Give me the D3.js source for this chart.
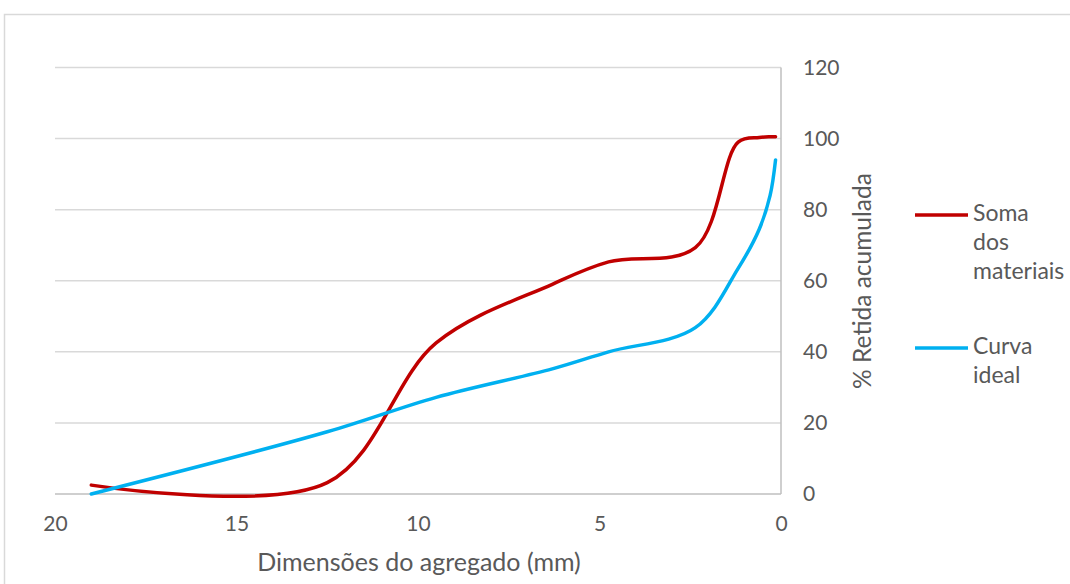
<!DOCTYPE html>
<html><head><meta charset="utf-8">
<script src="https://cdn.jsdelivr.net/npm/d3@7"></script>
<style>body{margin:0;background:#fff}svg{display:block}text{font-family:Lato,"Open Sans",sans-serif;fill:#595959}</style>
</head><body>
<svg id="chart" width="1070" height="584"></svg>
<script>
// Data
const sieves = [19, 12.5, 9.5, 6.3, 4.75, 2.36, 1.18, 0.6, 0.3, 0.15];
const somaMateriais = [2.5, 3.2, 42.5, 59, 65.3, 69.3, 99, 100.3, 100.5, 100.5];
const curvaIdeal = [0, 17.5, 27.2, 35.2, 40, 46.8, 63.5, 74.5, 84, 94];
const xTicks = [20, 15, 10, 5, 0];
const yTicks = [0, 20, 40, 60, 80, 100, 120];
const seriesNames = ["Soma dos materiais", "Curva ideal"];
const seriesColors = ["#c00000", "#00b0f0"];

const svg = d3.select("#chart");
svg.append("rect").attr("x", 4.5).attr("y", 14.5).attr("width", 1100).attr("height", 600)
  .attr("fill", "#fff").attr("stroke", "#d9d9d9").attr("stroke-width", 1.5);

const x = d3.scaleLinear().domain([20, 0]).range([55, 781]);
const y = d3.scaleLinear().domain([0, 120]).range([494, 67.5]);

// gridlines
svg.append("g").selectAll("line").data(yTicks.filter(d => d > 0)).join("line")
  .attr("x1", x(20)).attr("x2", x(0)).attr("y1", d => y(d)).attr("y2", d => y(d))
  .attr("stroke", "#d9d9d9").attr("stroke-width", 1.5);
// axis lines
svg.append("line").attr("x1", x(20)).attr("x2", x(0)).attr("y1", y(0)).attr("y2", y(0))
  .attr("stroke", "#bfbfbf").attr("stroke-width", 1.5);
svg.append("line").attr("x1", x(0)).attr("x2", x(0)).attr("y1", y(0)).attr("y2", y(120))
  .attr("stroke", "#bfbfbf").attr("stroke-width", 1.5);

// x tick labels
const xAxis = d3.axisBottom(x).tickValues(xTicks).tickSize(0).tickPadding(22);
const gx = svg.append("g").attr("transform", `translate(0,${y(0)})`).call(xAxis);
gx.select(".domain").remove();
gx.selectAll("text").style("font-size", "21px").attr("fill", "#595959").attr("font-family", "Lato");

// y tick labels (right)
const yAxis = d3.axisRight(y).tickValues(yTicks).tickSize(0).tickPadding(22);
const gy = svg.append("g").attr("transform", `translate(${x(0)},0)`).call(yAxis);
gy.select(".domain").remove();
gy.selectAll("text").style("font-size", "21px").attr("fill", "#595959").attr("font-family", "Lato");

// axis titles
svg.append("text").attr("x", 419).attr("y", 565).attr("text-anchor", "middle")
  .attr("dominant-baseline", "middle").style("font-size", "25px").text("Dimensões do agregado (mm)");
svg.append("text").attr("transform", "translate(865,281) rotate(-90)").attr("text-anchor", "middle")
  .attr("dominant-baseline", "middle").style("font-size", "24.5px").text("% Retida acumulada");

// lines
const line = d3.line().x(d => x(d[0])).y(d => y(d[1])).curve(d3.curveCatmullRom.alpha(0.5));
[somaMateriais, curvaIdeal].forEach((vals, i) => {
  svg.append("path").datum(sieves.map((s, j) => [s, vals[j]]))
    .attr("d", line).attr("fill", "none").attr("stroke", seriesColors[i])
    .attr("stroke-width", 3.5).attr("stroke-linecap", "round");
});

// legend
const legend = [
  {lines: ["Soma", "dos", "materiais"], y: 215},
  {lines: ["Curva", "ideal"], y: 348}
];
legend.forEach((L, i) => {
  svg.append("line").attr("x1", 915).attr("x2", 968).attr("y1", L.y).attr("y2", L.y)
    .attr("stroke", seriesColors[i]).attr("stroke-width", 3.5);
  const t = svg.append("text").attr("x", 973).attr("y", L.y).style("font-size", "23px");
  L.lines.forEach((s, k) => t.append("tspan").attr("x", 973).attr("y", L.y + k * 29)
    .attr("dominant-baseline", "middle").text(s));
});
</script>
</body></html>
